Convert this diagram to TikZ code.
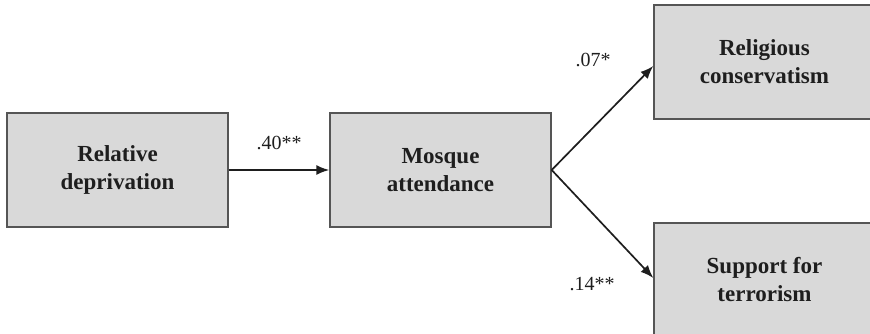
\documentclass[tikz,border=0pt]{standalone}
\usepackage{fontspec}
\setmainfont{Liberation Serif}
\usetikzlibrary{arrows.meta}

\definecolor{boxfill}{HTML}{D9D9D9}
\definecolor{boxline}{HTML}{555555}
\definecolor{ink}{HTML}{1E1E1E}

\begin{document}
\begin{tikzpicture}[x=1pt,y=-1pt]
        \useasboundingbox (0,0) rectangle (870,334);
        \clip (0,0) rectangle (870,334);

        \begin{scope}[every node/.style={rectangle,draw=boxline,line width=1.4pt,fill=boxfill,
            minimum width=221pt,minimum height=114pt,align=center,text=ink,
            font=\fontsize{23}{28}\selectfont\bfseries}]
          \node (reldep)  at (117.5,170) {Relative\\deprivation};
          \node (mosque)  at (440.5,170) {Mosque\\attendance};
          \node (relcons) at (764.5,62)  {Religious\\conservatism};
          \node (support) at (764.5,280) {Support for\\terrorism};
        \end{scope}

        \begin{scope}[every node/.style={text=ink,font=\fontsize{20}{22}\selectfont}]
          \node (b1) at (279,143) {.40**};
          \node (b2) at (593,60)  {.07*};
          \node (b3) at (592,284) {.14**};
        \end{scope}

        \begin{scope}[every edge/.style={draw=ink,line width=1.7pt,-{Latex[length=13pt,width=10pt]}}]
          \path (reldep.east) edge (mosque.west);
          \path (mosque.east) edge ([yshift=-4pt]relcons.west);
          \path (mosque.east) edge ([yshift=2pt]support.west);
        \end{scope}

      \end{tikzpicture}
\end{document}
